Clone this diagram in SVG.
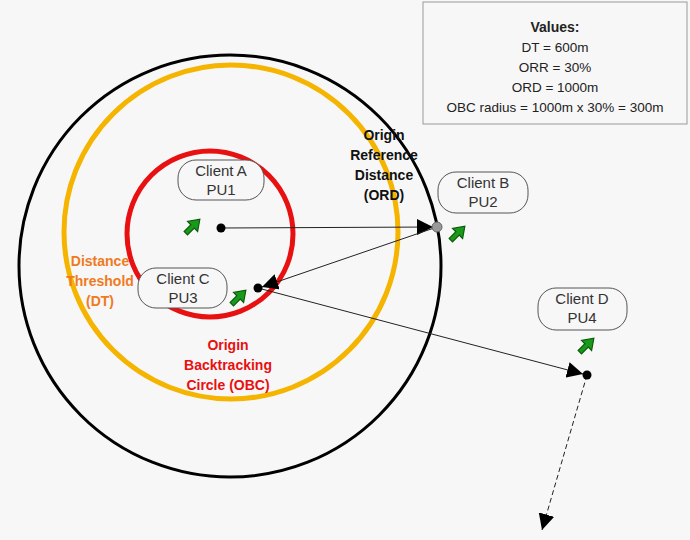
<svg xmlns="http://www.w3.org/2000/svg" width="690" height="540" viewBox="0 0 690 540">
<style>
.t{font-family:"Liberation Sans",sans-serif;font-size:15px;fill:#333;text-anchor:middle}
.b{font-family:"Liberation Sans",sans-serif;font-size:14px;font-weight:bold;text-anchor:middle}
.v{font-family:"Liberation Sans",sans-serif;font-size:13.5px;fill:#222;text-anchor:middle}
.lbl{fill:#f7f7f7;stroke:#555;stroke-width:1}
.c{stroke:#222;stroke-width:1;fill:none}
</style>
<defs>
<marker id="ar" viewBox="0 0 10 10" refX="10" refY="5" markerWidth="16" markerHeight="16" markerUnits="userSpaceOnUse" orient="auto"><path d="M0,0L10,5L0,10z" fill="#000"/></marker>
<symbol id="gi" viewBox="0 0 16 16"><path d="M1,12L7,6L4,3L15,1L13,12L10,9L4,15z" fill="#1a9a1a" stroke="#0a5a0a" stroke-width="1"/></symbol>
</defs>
<rect width="690" height="540" fill="#f7f7f7"/>
<g id="circles">
<circle cx="230" cy="266" r="211" fill="none" stroke="#000" stroke-width="3"/>
<circle cx="231" cy="232" r="167" fill="none" stroke="#f5b400" stroke-width="5"/>
<circle cx="210" cy="234" r="83" fill="none" stroke="#e81010" stroke-width="5"/>
</g>
<g id="values">
<rect x="423" y="2" width="264" height="122" fill="#f7f7f7" stroke="#999"/>
<text class="b" x="555" y="32" fill="#222">Values:</text>
<text class="v" x="555" y="52">DT = 600m</text>
<text class="v" x="555" y="72">ORR = 30%</text>
<text class="v" x="555" y="92">ORD = 1000m</text>
<text class="v" x="555" y="112">OBC radius = 1000m x 30% = 300m</text>
</g>
<g id="labels">
<text class="b" x="384" y="140" fill="#111">Origin</text>
<text class="b" x="384" y="160" fill="#111">Reference</text>
<text class="b" x="384" y="180" fill="#111">Distance</text>
<text class="b" x="384" y="200" fill="#111">(ORD)</text>
<text class="b" x="100" y="266" fill="#f07a20">Distance</text>
<text class="b" x="100" y="286" fill="#f07a20">Threshold</text>
<text class="b" x="100" y="306" fill="#f07a20">(DT)</text>
<text class="b" x="228" y="350" fill="#e81010">Origin</text>
<text class="b" x="228" y="370" fill="#e81010">Backtracking</text>
<text class="b" x="228" y="390" fill="#e81010">Circle (OBC)</text>
</g>
<g id="connectors">
<line class="c" x1="221" y1="228" x2="433" y2="227" marker-end="url(#ar)"/>
<line class="c" x1="437" y1="227" x2="262" y2="287" marker-end="url(#ar)"/>
<line class="c" x1="258" y1="288" x2="583" y2="374" marker-end="url(#ar)"/>
<line class="c" x1="587" y1="375" x2="542" y2="530" stroke-dasharray="5,3" marker-end="url(#ar)"/>
</g>
<g id="clientA"><rect class="lbl" x="178" y="160" width="86" height="40" rx="18"/><text class="t" x="221" y="176">Client A</text><text class="t" x="221" y="195">PU1</text><use href="#gi" x="183" y="218" width="18" height="18"/><circle cx="221" cy="228" r="4.5" fill="#000"/></g>
<g id="clientB"><rect class="lbl" x="438" y="172" width="90" height="41" rx="18"/><text class="t" x="483" y="188">Client B</text><text class="t" x="483" y="207">PU2</text><use href="#gi" x="448" y="225" width="18" height="18"/><circle cx="437" cy="227" r="5" fill="#999" stroke="#666"/></g>
<g id="clientC"><rect class="lbl" x="138" y="268" width="89" height="40" rx="18"/><text class="t" x="183" y="284">Client C</text><text class="t" x="183" y="303">PU3</text><use href="#gi" x="229" y="289" width="18" height="18"/><circle cx="258" cy="288" r="4.5" fill="#000"/></g>
<g id="clientD"><rect class="lbl" x="538" y="288" width="89" height="42" rx="18"/><text class="t" x="582" y="304">Client D</text><text class="t" x="582" y="323">PU4</text><use href="#gi" x="577" y="337" width="18" height="18"/><circle cx="587" cy="375" r="4.5" fill="#000"/></g>
</svg>
